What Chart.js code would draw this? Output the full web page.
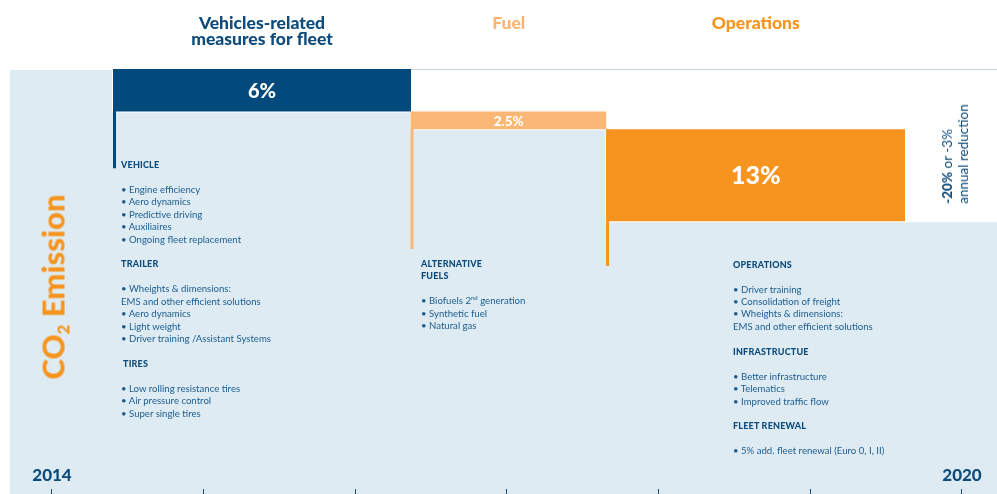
<!DOCTYPE html>
<html>
<head>
<meta charset="utf-8">
<script src="https://cdn.jsdelivr.net/npm/chart.js@4"></script>
<style>
html,body{margin:0;padding:0;background:#fff;overflow:hidden}
#wrap{position:relative;width:997px;height:494px}
#c{position:absolute;left:0;top:0}
.note{position:absolute;font-family:Lato,"Open Sans",sans-serif;font-size:9.6px;line-height:12.45px;color:#1c5d91;white-space:nowrap}
.note b{color:#0d4b7c;font-weight:900;font-size:9px;letter-spacing:0.2px}
.note sup{font-size:6px;line-height:0;vertical-align:4px}
.rot{position:absolute;white-space:nowrap;transform:translate(-50%,-50%) rotate(-90deg);font-family:Lato,"Open Sans",sans-serif}
.co2{font-size:31px;font-weight:900;color:#f7941d;line-height:1}
.co2 sub{font-size:17px;vertical-align:-5px;line-height:0}
.total{font-size:13.5px;line-height:16px;color:#0d4c7d;text-align:left}
</style>
</head>
<body>
<div id="wrap">
<canvas id="c" width="997" height="494"></canvas>

<div class="note" style="left:121px;top:158.8px">
<b>VEHICLE</b><br><br>
• Engine efficiency<br>
• Aero dynamics<br>
• Predictive driving<br>
• Auxiliaires<br>
• Ongoing fleet replacement<br><br>
<b>TRAILER</b><br><br>
• Wheights &amp; dimensions:<br>
EMS and other efficient solutions<br>
• Aero dynamics<br>
• Light weight<br>
• Driver training /Assistant Systems<br><br>
<b style="padding-left:2px">TIRES</b><br><br>
• Low rolling resistance tires<br>
• Air pressure control<br>
• Super single tires
</div>

<div class="note" style="left:421px;top:257.8px">
<b>ALTERNATIVE</b><br>
<b>FUELS</b><br><br>
• Biofuels 2<sup>nd</sup> generation<br>
• Synthetic fuel<br>
• Natural gas
</div>

<div class="note" style="left:733px;top:258.6px">
<b>OPERATIONS</b><br><br>
• Driver training<br>
• Consolidation of freight<br>
• Wheights &amp; dimensions:<br>
EMS and other efficient solutions<br><br>
<b>INFRASTRUCTUE</b><br><br>
• Better infrastructure<br>
• Telematics<br>
• Improved traffic flow<br><br>
<b>FLEET RENEWAL</b><br><br>
• 5% add. fleet renewal (Euro 0, I, II)
</div>

<div class="rot co2" style="left:53px;top:287px">CO<sub>2</sub> Emission</div>
<div class="rot total" style="left:955px;top:154px"><b style="font-weight:900">-20%</b> or -3%<br>annual reduction</div>
</div>

<script>
// ---------- DATA ----------
const categoryLines = [['Vehicles-related', 'measures for fleet'], ['Fuel'], ['Operations']];
const reductions = [6, 2.5, 13];          // % reduction of 2014 CO2 emission per measure group
const baseLevel = 100;                    // 2014 emission index (%)
const yearTicks = [2014, 2015, 2016, 2017, 2018, 2019, 2020];
const yearLabels = ['2014', '', '', '', '', '', '2020'];

// ---------- LAYOUT (positions / styles, not data) ----------
const X_MIN = 2013.72308, X_MAX = 2020.23077;
const segmentEdges = [2014.4022, 2016.3670, 2017.6560, 2019.6242];
const legEnds = [86.0, 74.6, 72.2];
const legShift = [0.010, 0.007, 0.007];
const barColors = ['#034a7c', '#fbb775', '#f7931f'];
const headerColors = ['#0d4c7d', '#fbb470', '#f7941d'];
const valueFontSizes = [20, 13.5, 25];
const remainColor = '#deebf2';

// levels after each cumulative reduction
const levels = [baseLevel];
reductions.forEach(r => levels.push(+(levels[levels.length - 1] - r).toFixed(2)));

const datasets = [];

// remaining emission (stepped area)
const remainPts = [{x: X_MIN, y: levels[0]}];
for (let i = 0; i < reductions.length; i++) remainPts.push({x: segmentEdges[i], y: levels[i + 1]});
remainPts.push({x: X_MAX, y: levels[levels.length - 1]});
datasets.push({
  label: 'Remaining CO2 emission', data: remainPts, stepped: true, fill: 'start',
  backgroundColor: remainColor, borderColor: '#ffffff', borderWidth: 2,
  pointRadius: 0, order: 5
});

// 2014 reference level
datasets.push({
  label: '2014 level', data: [{x: segmentEdges[0], y: baseLevel}, {x: X_MAX, y: baseLevel}],
  borderColor: '#b5ccd9', borderWidth: 1.5, fill: false, pointRadius: 0, order: 4
});

// reduction bars
reductions.forEach((r, i) => {
  datasets.push({
    label: categoryLines[i].join(' '), reduction: r, barIndex: i,
    data: [{x: segmentEdges[i], y: levels[i]}, {x: segmentEdges[i + 1], y: levels[i]}],
    fill: {value: levels[i + 1]}, backgroundColor: barColors[i],
    borderColor: 'rgba(0,0,0,0)', borderWidth: 1, pointRadius: 0, order: 2
  });
});

// connector legs
reductions.forEach((r, i) => {
  const xv = segmentEdges[i] + legShift[i];
  datasets.push({
    label: 'leg' + i, data: [{x: xv, y: levels[i]}, {x: xv, y: legEnds[i]}],
    borderColor: barColors[i], borderWidth: 3, fill: false, pointRadius: 0, order: 1
  });
});

const annotate = {
  id: 'annotate',
  afterDatasetsDraw(chart) {
    const ctx = chart.ctx, xs = chart.scales.x, ys = chart.scales.y;
    ctx.save();
    ctx.textAlign = 'center';
    ctx.textBaseline = 'middle';
    reductions.forEach((r, i) => {
      const cx = xs.getPixelForValue((segmentEdges[i] + segmentEdges[i + 1]) / 2);
      const cy = ys.getPixelForValue((levels[i] + levels[i + 1]) / 2);
      ctx.fillStyle = '#ffffff';
      ctx.font = '900 ' + valueFontSizes[i] + 'px Lato, "Open Sans", sans-serif';
      ctx.fillText(r + '%', cx, cy + 1);
      // category headers
      ctx.fillStyle = headerColors[i];
      ctx.font = '900 17.5px Lato, "Open Sans", sans-serif';
      categoryLines[i].forEach((t, k) => ctx.fillText(t, cx, 23 + k * 16.5));
    });
    ctx.restore();
  }
};

new Chart(document.getElementById('c'), {
  type: 'line',
  data: {datasets},
  options: {
    responsive: false, animation: false, events: [],
    layout: {padding: {left: 10, top: 69, right: 0, bottom: 0}},
    plugins: {legend: {display: false}, tooltip: {enabled: false}},
    scales: {
      x: {
        type: 'linear', min: X_MIN, max: X_MAX,
        position: {y: 40.65},
        afterBuildTicks: s => { s.ticks = yearTicks.map(v => ({value: v})); },
        grid: {drawOnChartArea: false, drawTicks: true, tickLength: 8, tickColor: '#1b4f7a', tickWidth: 1, z: 1},
        border: {display: false},
        ticks: {
          z: 1, padding: -32, autoSkip: false, maxRotation: 0, minRotation: 0,
          color: '#0d4c7d', font: {family: 'Lato', size: 17, weight: '900'},
          callback: (v) => { const k = yearTicks.indexOf(v); return k >= 0 ? yearLabels[k] : ''; }
        }
      },
      y: {type: 'linear', min: 40, max: 100, display: false}
    }
  },
  plugins: [annotate]
});
</script>
</body>
</html>
